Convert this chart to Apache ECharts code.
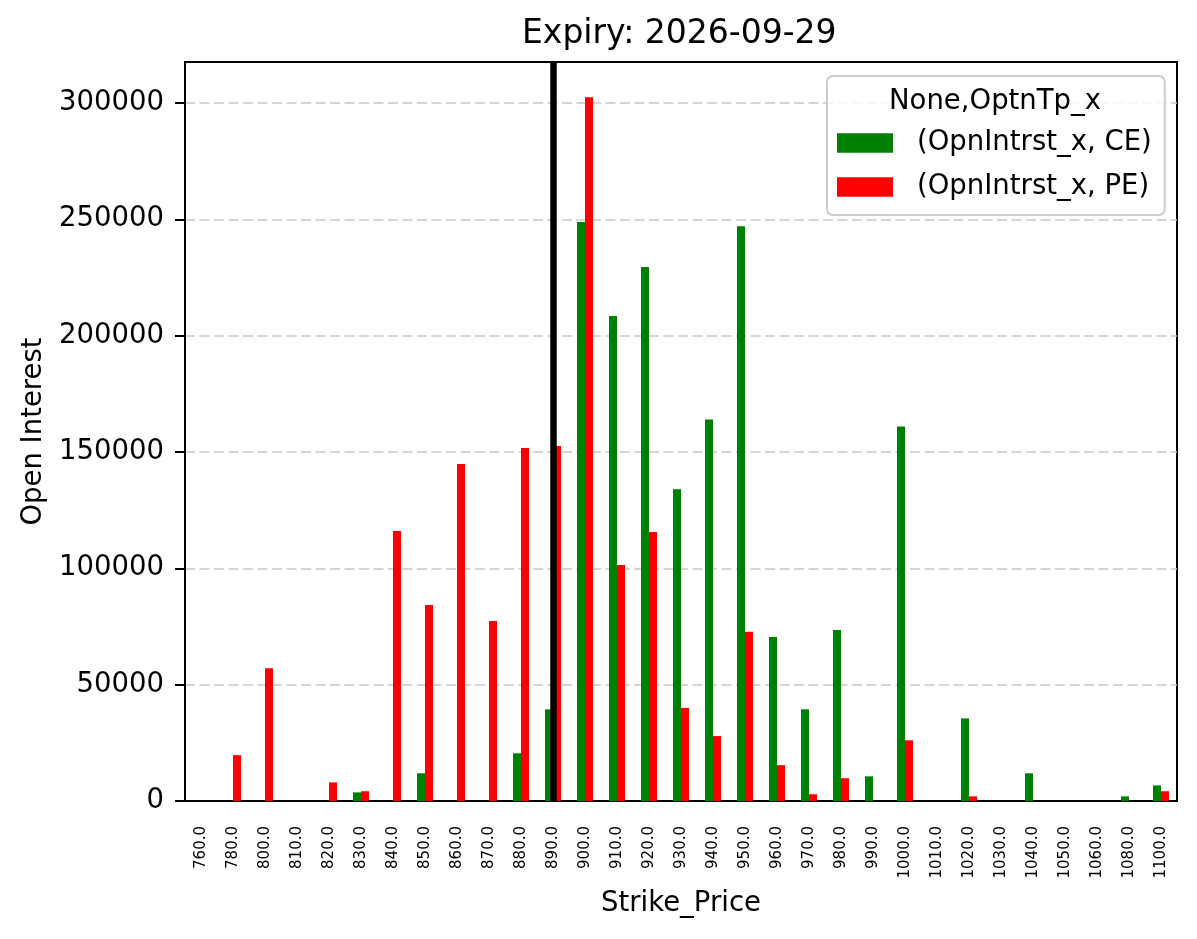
<!DOCTYPE html>
<html>
<head>
<meta charset="utf-8">
<title>Expiry: 2026-09-29</title>
<script src="https://cdn.jsdelivr.net/npm/echarts@6/dist/echarts.min.js"></script>
<style>
  html, body { margin: 0; padding: 0; background: #fff; }
  #main { width: 1197px; height: 939px; }
</style>
</head>
<body>
<div id="main"></div>
<script>
// strike prices (x categories)
var strikes = ['760.0', '780.0', '800.0', '810.0', '820.0', '830.0', '840.0', '850.0', '860.0', '870.0',
               '880.0', '890.0', '900.0', '910.0', '920.0', '930.0', '940.0', '950.0', '960.0', '970.0',
               '980.0', '990.0', '1000.0', '1010.0', '1020.0', '1030.0', '1040.0', '1050.0', '1060.0', '1080.0', '1100.0'];

// open interest, calls
var ceOI = [0, 0, 0, 0, 0, 3700, 0, 11900, 0, 0,
            20500, 39400, 248800, 208400, 229500, 134000, 164000, 247000, 70500, 39400,
            73500, 10600, 161000, 0, 35500, 0, 11900, 0, 0, 2000, 6700];

// open interest, puts
var peOI = [0, 19700, 57000, 0, 8000, 4200, 116000, 84200, 144800, 77400,
            151700, 152600, 302500, 101400, 115600, 40000, 27900, 72700, 15400, 2900,
            9800, 0, 26100, 0, 2000, 0, 0, 0, 0, 0, 4200];

var yTicks = [0, 50000, 100000, 150000, 200000, 250000, 300000];
var spotStrike = '890.0';

var font = 'DejaVu Sans';
var myChart = echarts.init(document.getElementById('main'));

var option = {
    animation: false,
    backgroundColor: '#ffffff',
    title: [
        {
            text: 'Expiry: 2026-09-29',
            left: 522,
            top: 18,
            padding: 0,
            textStyle: { fontFamily: font, fontSize: 33, fontWeight: 'normal', color: '#000' }
        },
        {
            // legend title
            text: 'None,OptnTp_x',
            left: 889,
            top: 88,
            padding: 0,
            z: 10,
            textStyle: { fontFamily: font, fontSize: 27.5, fontWeight: 'normal', color: '#000' }
        }
    ],
    legend: {
        orient: 'vertical',
        left: 827,
        top: 76,
        padding: [53, 13, 14, 10],
        itemWidth: 56,
        itemHeight: 19.5,
        itemGap: 16,
        icon: 'rect',
        borderColor: '#cccccc',
        borderWidth: 2,
        borderRadius: 6,
        backgroundColor: 'rgba(255,255,255,0.8)',
        textStyle: { fontFamily: font, fontSize: 27.5, lineHeight: 27, color: '#000', padding: [0, 0, 0, 19] },
        data: ['(OpnIntrst_x, CE)', '(OpnIntrst_x, PE)']
    },
    grid: {
        left: 185,
        right: 20,
        top: 62,
        bottom: 138,
        show: true,
        borderColor: '#000',
        borderWidth: 2
    },
    xAxis: {
        type: 'category',
        data: strikes,
        name: 'Strike_Price',
        nameLocation: 'middle',
        nameGap: 89,
        nameTextStyle: { fontFamily: font, fontSize: 27.5, color: '#000' },
        axisLine: { lineStyle: { color: '#000', width: 2 } },
        axisTick: { alignWithLabel: true, length: 10, lineStyle: { color: '#000', width: 2 } },
        axisLabel: { interval: 0, rotate: 90, margin: 25, fontFamily: font, fontSize: 15, color: '#000' },
        splitLine: { show: false }
    },
    yAxis: {
        type: 'value',
        min: 0,
        max: 317600,
        interval: 50000,
        name: 'Open Interest',
        nameLocation: 'middle',
        nameGap: 131,
        nameTextStyle: { fontFamily: font, fontSize: 27.5, color: '#000' },
        axisLine: { show: true, lineStyle: { color: '#000', width: 2 } },
        axisTick: { show: true, length: 10, customValues: yTicks, lineStyle: { color: '#000', width: 2 } },
        axisLabel: {
            margin: 21,
            customValues: yTicks,
            fontFamily: font,
            fontSize: 27.5,
            color: '#000',
            formatter: function (v) { return String(v); }
        },
        splitLine: { show: true, lineStyle: { color: '#c8c8c8', width: 1.6, type: [10, 4.5] } }
    },
    series: [
        {
            name: '(OpnIntrst_x, CE)',
            type: 'bar',
            barWidth: 8,
            barGap: 0,
            itemStyle: { color: '#008000' },
            data: ceOI
        },
        {
            name: '(OpnIntrst_x, PE)',
            type: 'bar',
            barWidth: 8,
            barGap: 0,
            itemStyle: { color: '#ff0000' },
            data: peOI
        },
        {
            // carrier for the vertical spot line, centred on the category
            name: 'spot',
            type: 'line',
            data: [],
            markLine: {
                silent: true,
                symbol: 'none',
                label: { show: false },
                lineStyle: { color: '#000', width: 6.5, type: 'solid' },
                data: [{ xAxis: spotStrike }]
            }
        }
    ]
};

myChart.setOption(option);
</script>
</body>
</html>
